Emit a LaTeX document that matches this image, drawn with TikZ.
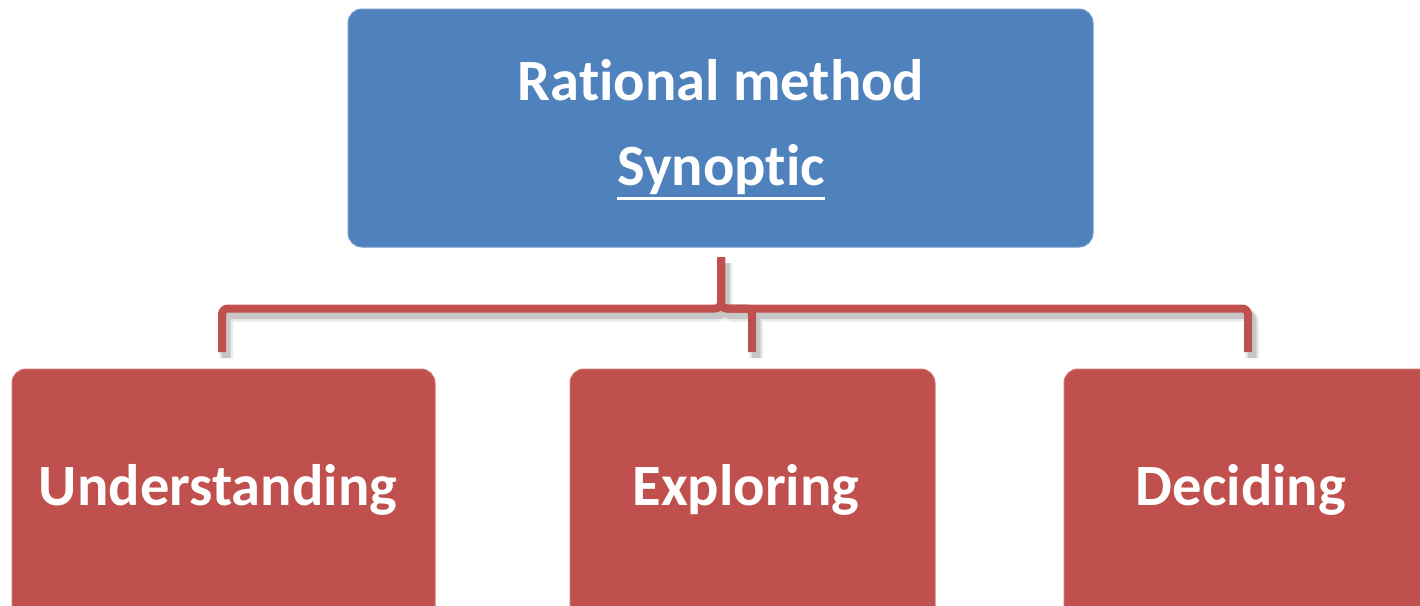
\documentclass[tikz,border=0pt]{standalone}
\usepackage{fontspec}
\setmainfont{Carlito}[Ligatures=NoCommon]
\definecolor{topblue}{HTML}{4F81BD}
\definecolor{leafred}{HTML}{C0504D}
\begin{document}
\begin{tikzpicture}[x=1pt,y=-1pt,
  box/.style={draw=#1!80!white, line width=1pt, fill=#1, rounded corners=14pt,
    inner sep=0pt, outer sep=0pt},
  label/.style={text=white, font=\bfseries\fontsize{58.5}{70}\selectfont,
    inner sep=0pt, anchor=base},
  link/.style={draw=leafred, line width=8pt, rounded corners=6pt},
  linkshade/.style={draw=black!22, line width=9pt, rounded corners=6pt},
  linkhaze/.style={draw=black!8, line width=14pt, rounded corners=8pt},
]
\useasboundingbox (0,0) rectangle (1420,605);
\clip (0,0) rectangle (1420,605);

% boxes
\node[box=topblue, minimum width=745pt, minimum height=238pt] (top) at (720.5,128) {};
\node[box=leafred, minimum width=423pt, minimum height=271pt] (under) at (223.5,504.5) {};
\node[box=leafred, minimum width=365pt, minimum height=271pt] (explore) at (752.5,504.5) {};
\node[box=leafred, minimum width=396pt, minimum height=271pt] (decide) at (1262,504.5) {};

% connector points
\coordinate (stem) at (721,257);
\coordinate (hub) at (721,308.5);
\coordinate (endU) at (222,352);
\coordinate (endE) at (752,352);
\coordinate (endD) at (1248,352);

% soft shadow under the connectors
\begin{scope}[transform canvas={shift={(4,6)}}]
  \foreach \e in {endU,endE,endD} {
    \draw[linkhaze] (stem) -- (hub) -| (\e);
  }
  \foreach \e in {endU,endE,endD} {
    \draw[linkshade] (stem) -- (hub) -| (\e);
  }
\end{scope}

% connectors
\foreach \e in {endU,endE,endD} {
  \draw[link] (stem) -- (hub) -| (\e);
}

% texts
\node[label] (t1) at (721,100) {Rational method};
\node[label] (t2) at (721,185) {Synoptic};
\draw[white, line width=3.5pt] ([yshift=-13.5pt]t2.base west) -- ([yshift=-13.5pt]t2.base east);
\node[label] (l1) at (218,505) {Understanding};
\node[label] (l2) at (746,505) {Exploring};
\node[label] (l3) at (1241,505) {Deciding};
\end{tikzpicture}
\end{document}
